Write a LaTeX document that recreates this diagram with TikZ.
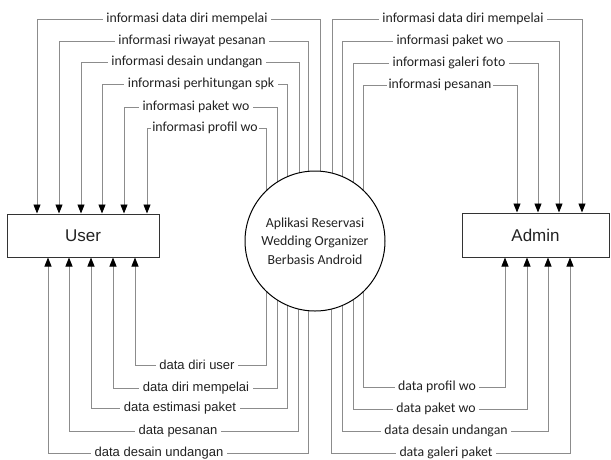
\documentclass[tikz,border=0pt]{standalone}
\usepackage{fontspec}
\setmainfont{Carlito}
\newfontfamily\arialf{Liberation Sans}
\usetikzlibrary{arrows.meta,backgrounds}
\definecolor{linegray}{HTML}{8C8C8C}
\definecolor{boxc}{HTML}{333333}
\definecolor{txt}{HTML}{222222}
\begin{document}
\begin{tikzpicture}[x=1pt,y=-1pt,
  flow/.style={draw=linegray, line width=0.9pt, -{Triangle[width=7pt,length=9pt,color=black]}},
  lbl/.style={fill=white, inner xsep=3.5pt, inner ysep=1pt, text=txt, font=\fontsize{13.8}{16}\selectfont},
  lbla/.style={lbl, font=\arialf\fontsize{13}{15}\selectfont},
  entity/.style={draw=boxc, line width=1pt, fill=white, text=txt, font=\arialf\fontsize{17}{20}\selectfont, inner sep=0pt},
  procc/.style={circle, draw=black, line width=1pt, fill=white, minimum size=140pt, inner sep=0pt, align=center, text=txt, font=\fontsize{13.8}{18.5}\selectfont}]
\useasboundingbox (0,0) rectangle (611,459);

\node[entity, minimum width=152pt, minimum height=43pt] (user) at (83,235.5) {User};
\node[entity, minimum width=147pt, minimum height=44pt] (admin) at (535.5,235) {Admin};
\node[procc] (proc) at (315,241) {Aplikasi Reservasi\\Wedding Organizer\\Berbasis Android};

\begin{scope}[on background layer]
  % top-left: process -> User
  \foreach \xc/\ly/\xb in {320/19/37, 308/41/59, 299/62/81, 287/84/102, 277/107/124, 266/128/147}
    \draw[flow] (proc.center -| \xc,0) |- (\xb,\ly) -- (user.north -| \xb,0);
  % top-right: process -> Admin
  \foreach \xc/\ly/\xb in {332/19/582, 342/41/559, 353/63/538, 363/85/517}
    \draw[flow] (proc.center -| \xc,0) |- (\xb,\ly) -- (admin.north -| \xb,0);
  % bottom-left: process -> User
  \foreach \xc/\ly/\xb in {266/365/135, 277/388/113, 287/408/91, 298/431/69, 308/453/48}
    \draw[flow] (proc.center -| \xc,0) |- (\xb,\ly) -- (user.south -| \xb,0);
  % bottom-right: process -> Admin
  \foreach \xc/\ly/\xb in {363/387/505, 353/409/527, 342/431/548, 331/453/570}
    \draw[flow] (proc.center -| \xc,0) |- (\xb,\ly) -- (admin.south -| \xb,0);
\end{scope}

% labels top-left
\node[lbl] (tl1) at (187,19) {informasi data diri mempelai};
\node[lbl] (tl2) at (192,41) {informasi riwayat pesanan};
\node[lbl] (tl3) at (187,62) {informasi desain undangan};
\node[lbl] (tl4) at (201,84) {informasi perhitungan spk};
\node[lbl] (tl5) at (196,107) {informasi paket wo};
\node[lbl, inner xsep=1.5pt] (tl6) at (205,128) {informasi profil wo};
% labels top-right
\node[lbl] (tr1) at (463,19) {informasi data diri mempelai};
\node[lbl] (tr2) at (450,41) {informasi paket wo};
\node[lbl] (tr3) at (449,63) {informasi galeri foto};
\node[lbl, inner xsep=1.5pt] (tr4) at (440,85) {informasi pesanan};
% labels bottom-left
\node[lbla] (bl1) at (197,365) {data diri user};
\node[lbla] (bl2) at (196,388) {data diri mempelai};
\node[lbla] (bl3) at (180,408) {data estimasi paket};
\node[lbla] (bl4) at (178,431) {data pesanan};
\node[lbla] (bl5) at (159,453) {data desain undangan};
% labels bottom-right
\node[lbl] (br1) at (437,387) {data profil wo};
\node[lbl] (br2) at (436,409) {data paket wo};
\node[lbl] (br3) at (446,431) {data desain undangan};
\node[lbl] (br4) at (446,453) {data galeri paket};
\end{tikzpicture}
\end{document}
